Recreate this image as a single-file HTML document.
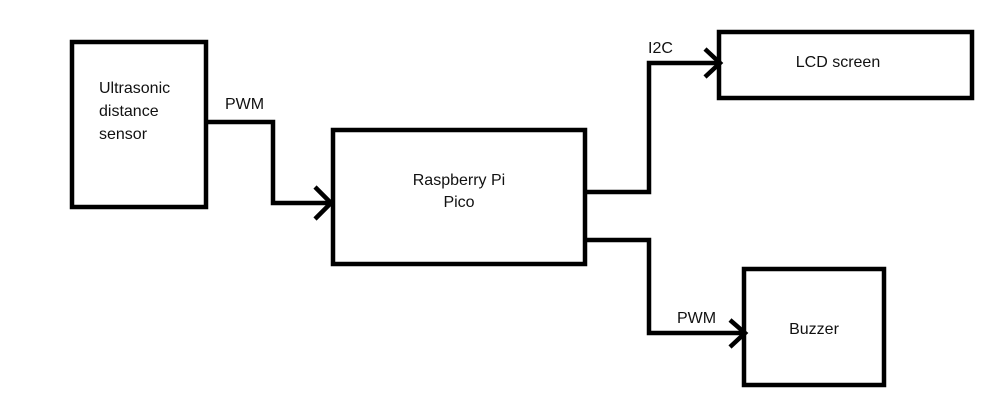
<!DOCTYPE html>
<html><head><style>body{margin:0;background:#fff}svg{display:block}text{font-family:"Liberation Sans",sans-serif;font-size:16px;fill:#111}</style></head>
<body>
<svg width="1005" height="402" viewBox="0 0 1005 402">
<g fill="none" stroke="#000" stroke-width="4.5">
<rect x="72" y="42" width="134" height="165"/>
<rect x="333" y="130" width="252" height="134"/>
<rect x="719" y="32" width="253" height="66"/>
<rect x="744" y="269" width="140" height="116"/>
<polyline points="206,122 273,122 273,203 333,203"/>
<polyline points="315,187 331,203 315,219"/>
<polyline points="585,192 649,192 649,63 719,63"/>
<polyline points="705,49 720,63 705,77"/>
<polyline points="585,240 649,240 649,333 745,333"/>
<polyline points="730,320 745,333 730,347"/>
</g>
<text x="99" y="93">Ultrasonic</text>
<text x="99" y="116">distance</text>
<text x="99" y="139">sensor</text>
<text x="225" y="109">PWM</text>
<text x="459" y="185" text-anchor="middle">Raspberry Pi</text>
<text x="459" y="207" text-anchor="middle">Pico</text>
<text x="648" y="53">I2C</text>
<text x="838" y="67" text-anchor="middle">LCD screen</text>
<text x="677" y="323">PWM</text>
<text x="814" y="334" text-anchor="middle">Buzzer</text>
</svg>
</body></html>
